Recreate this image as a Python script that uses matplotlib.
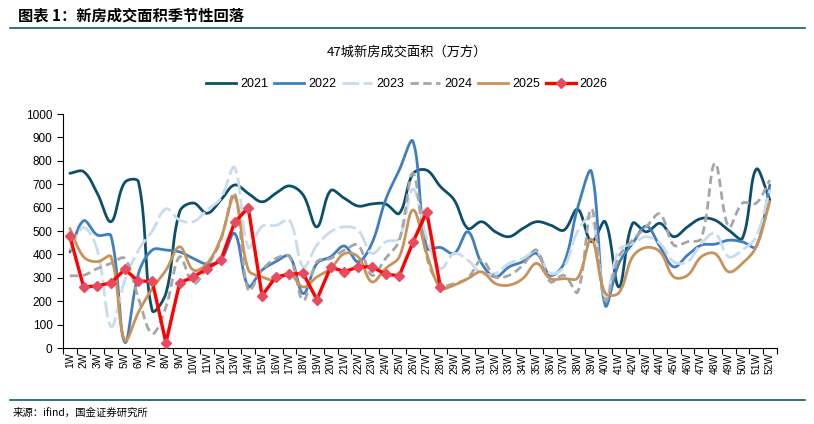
import numpy as np
import matplotlib
matplotlib.use('Agg')
import matplotlib.pyplot as plt
from matplotlib.lines import Line2D

plt.rcParams['font.family'] = ['Liberation Sans', 'Noto Sans CJK SC', 'DejaVu Sans']

# 周次标签
weeks = [f'{i}W' for i in range(1, 53)]

# 47城新房成交面积（万方），按年份
v2021 = [747, 754, 661, 540, 708, 710, 161, 234, 583, 620, 576, 633, 697, 661, 625, 661,
         693, 654, 518, 673, 640, 607, 616, 616, 576, 745, 760, 690, 633, 511, 540, 497,
         476, 511, 540, 526, 504, 593, 455, 540, 261, 533, 497, 533, 476, 518, 554, 547,
         504, 469, 764, 633]
v2022 = [410, 544, 483, 479, 25, 319, 419, 419, 411, 383, 359, 376, 490, 265, 333, 369,
         393, 233, 362, 390, 436, 369, 447, 633, 761, 883, 428, 430, 404, 497, 362, 304,
         347, 369, 404, 311, 362, 600, 754, 183, 362, 447, 521, 433, 347, 397, 440, 444,
         461, 454, 433, 697]
v2023 = [420, 515, 419, 92, 290, 419, 500, 595, 547, 540, 590, 640, 772, 430, 520, 524,
         547, 347, 440, 497, 518, 504, 404, 454, 469, 680, 470, 340, 404, 376, 319, 319,
         362, 383, 411, 319, 347, 500, 560, 219, 419, 447, 476, 447, 369, 369, 447, 490,
         390, 419, 476, 676]
v2024 = [309, 311, 340, 362, 383, 212, 62, 176, 390, 276, 347, 461, 661, 247, 333, 383,
         390, 204, 369, 383, 419, 440, 311, 383, 461, 747, 390, 270, 276, 300, 376, 304,
         311, 354, 419, 283, 311, 240, 595, 204, 390, 461, 518, 573, 440, 454, 469, 790,
         518, 619, 619, 718]
v2025 = [511, 390, 369, 390, 33, 154, 254, 333, 433, 333, 362, 469, 647, 335, 304, 290,
         319, 261, 304, 340, 404, 390, 283, 340, 390, 590, 404, 258, 269, 297, 326, 276,
         269, 297, 362, 297, 297, 300, 465, 236, 236, 390, 430, 411, 304, 311, 390, 404,
         326, 362, 433, 626]
v2026 = [478, 261, 266, 279, 336, 286, 286, 23, 279, 304, 340, 376, 537, 600, 224, 304,
         316, 319, 207, 347, 326, 347, 347, 316, 309, 452, 583, 259]


def smooth(ys, n=20, k=0.36, sx=13.7, sy=0.234):
    # 按弦长加权的 Bezier 平滑，仿 Excel 的平滑线；sx/sy 为每单位的像素数
    y = np.asarray(ys, float)
    x = np.arange(len(y), dtype=float)
    P = np.column_stack([x, y])
    Q = np.vstack([2 * P[0] - P[1], P, 2 * P[-1] - P[-2]])
    d = np.hypot(np.diff(Q[:, 0]) * sx, np.diff(Q[:, 1]) * sy)
    t = np.linspace(0, 1, n, endpoint=False)[:, None]
    pts = []
    for i in range(len(P) - 1):
        j = i + 1  # Q 中的下标
        T1 = Q[j + 1] - Q[j - 1]
        T2 = Q[j + 2] - Q[j]
        c1 = Q[j] + T1 * k * d[j] / (d[j - 1] + d[j])
        c2 = Q[j + 1] - T2 * k * d[j] / (d[j] + d[j + 1])
        b = ((1 - t) ** 3 * Q[j] + 3 * (1 - t) ** 2 * t * c1
             + 3 * (1 - t) * t ** 2 * c2 + t ** 3 * Q[j + 1])
        pts.append(b)
    pts.append(P[-1:])
    pts = np.vstack(pts)
    return pts[:, 0], pts[:, 1]


fig = plt.figure(figsize=(8.14, 4.24), dpi=100)
ax = fig.add_axes([0.0774, 0.179, 0.8768, 0.552])

lw = 2.0
series = [
    ('2021', v2021, dict(color='#0B4F6C', lw=lw)),
    ('2022', v2022, dict(color='#3F7FC1', lw=lw)),
    ('2023', v2023, dict(color='#C9DCEE', lw=lw, dashes=(6, 1.6))),
    ('2024', v2024, dict(color='#A6A6A6', lw=lw, dashes=(3, 1.6))),
    ('2025', v2025, dict(color='#C8935A', lw=lw)),
]
handles = []
for name, vals, kw in series:
    cx, cy = smooth(vals)
    ax.plot(cx, cy, solid_capstyle='round', **kw)
    handles.append(Line2D([], [], **kw))

ax.plot(np.arange(len(v2026)), v2026, color='#FF0000', lw=2.4, marker='D',
        markersize=5, markerfacecolor='#E84A5F', markeredgecolor='#E84A5F', zorder=5)
handles.append(Line2D([], [], color='#FF0000', lw=2.4, marker='D', markersize=5,
                      markerfacecolor='#E84A5F', markeredgecolor='#E84A5F'))

ax.set_xlim(-0.5, 51.5)
ax.set_ylim(0, 1000)
ax.set_yticks(np.arange(0, 1001, 100))
ax.set_xticks(np.arange(52))
ax.set_xticklabels(weeks, rotation=90, fontsize=7.5)
ax.set_xticks(np.arange(-0.5, 52, 1), minor=True)
ax.tick_params(axis='x', which='major', length=0, pad=3)
ax.tick_params(axis='x', which='minor', length=4, direction='out', width=0.8)
ax.tick_params(axis='y', length=4, width=0.8, labelsize=8.5)
for s in ('top', 'right'):
    ax.spines[s].set_visible(False)
for s in ('left', 'bottom'):
    ax.spines[s].set_linewidth(0.8)

fig.legend(handles, [s[0] for s in series] + ['2026'], loc='center',
           bbox_to_anchor=(0.5, 0.802), ncol=6, frameon=False, fontsize=9,
           handlelength=2.4, handletextpad=0.3, columnspacing=0.5)

fig.text(0.5, 0.877, '47城新房成交面积（万方）', ha='center', va='center', fontsize=9.5,
         family=['Noto Sans CJK SC', 'DejaVu Sans'])
fig.text(0.022, 0.964, '图表 1：新房成交面积季节性回落', ha='left', va='center', fontsize=11,
         fontweight='bold', family=['Noto Sans CJK SC', 'DejaVu Sans'])
fig.text(0.016, 0.026, '来源：ifind，国金证券研究所', ha='left', va='center', fontsize=7.5,
         family=['Noto Sans CJK SC', 'DejaVu Sans'])

rule = '#0E5A6B'
fig.add_artist(Line2D([0.012, 0.989], [0.933, 0.933], transform=fig.transFigure,
                      color=rule, lw=1.2))
fig.add_artist(Line2D([0.012, 0.989], [0.057, 0.057], transform=fig.transFigure,
                      color=rule, lw=1.2))

fig.savefig('out.png', dpi=100)
